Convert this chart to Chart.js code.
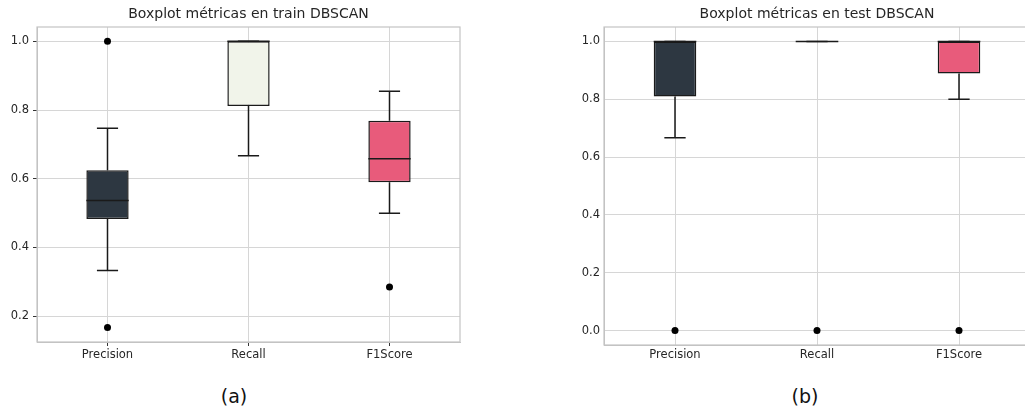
<!DOCTYPE html>
<html lang="es">
<head>
  <meta charset="UTF-8">
  <title>Boxplot métricas DBSCAN</title>
  <script src="https://cdn.jsdelivr.net/npm/chart.js"></script>
  <style>
    body {
      margin: 0;
      width: 1025px;
      height: 412px;
      overflow: hidden;
      background: #ffffff;
      position: relative;
      font-family: "DejaVu Sans", sans-serif;
    }
    .chart-box {
      position: absolute;
      top: 0;
      height: 370px;
    }
    .title {
      position: absolute;
      top: 5px;
      font-size: 14px;
      color: #262626;
      white-space: nowrap;
      transform: translateX(-50%);
    }
    .caption {
      position: absolute;
      top: 385px;
      font-size: 19px;
      color: #111;
      transform: translateX(-50%);
    }
  </style>
</head>
<body>

<div class="chart-box" style="left:0; width:470px;"><canvas id="trainChart"></canvas></div>
<div class="chart-box" style="left:560px; width:480px;"><canvas id="testChart"></canvas></div>

<div class="title" style="left:248.5px;">Boxplot métricas en train DBSCAN</div>
<div class="title" style="left:817px;">Boxplot métricas en test DBSCAN</div>

<div class="caption" style="left:234px;">(a)</div>
<div class="caption" style="left:805px;">(b)</div>

<script>
  // Datos
  const categories = ['Precision', 'Recall', 'F1Score'];
  const boxColors = ['#2d3741', '#f1f4ea', '#e85b7b'];

  // train
  const trainQ1 = [0.483, 0.812, 0.590];
  const trainMedian = [0.537, 1.0, 0.658];
  const trainQ3 = [0.625, 1.0, 0.769];
  const trainWhiskerLow = [0.333, 0.667, 0.500];
  const trainWhiskerHigh = [0.747, 1.0, 0.855];
  const trainOutliers = [[0.167, 1.0], [], [0.285]];
  const trainTicks = [0.2, 0.4, 0.6, 0.8, 1.0];

  // test
  const testQ1 = [0.810, 1.0, 0.889];
  const testMedian = [1.0, 1.0, 1.0];
  const testQ3 = [1.0, 1.0, 1.0];
  const testWhiskerLow = [0.667, 1.0, 0.800];
  const testWhiskerHigh = [1.0, 1.0, 1.0];
  const testOutliers = [[0.0], [0.0], [0.0]];
  const testTicks = [0.0, 0.2, 0.4, 0.6, 0.8, 1.0];

  const tickFont = { family: 'DejaVu Sans', size: 11.5 };

  // bigotes, topes y mediana dibujados con las escalas del gráfico
  const boxplotPlugin = {
    id: 'boxplotExtras',
    afterDatasetsDraw(chart, args, opts) {
      const ctx = chart.ctx;
      const y = chart.scales.y;
      const bars = chart.getDatasetMeta(0).data;
      ctx.save();
      ctx.lineWidth = 1.5;
      ctx.strokeStyle = '#1a1a1a';
      bars.forEach((bar, i) => {
        const x = bar.x;
        const half = bar.width / 2;
        const capHalf = half / 2;
        const yQ1 = y.getPixelForValue(opts.q1[i]);
        const yQ3 = y.getPixelForValue(opts.q3[i]);
        const yLow = y.getPixelForValue(opts.low[i]);
        const yHigh = y.getPixelForValue(opts.high[i]);
        const yMed = y.getPixelForValue(opts.median[i]);
        ctx.beginPath();
        // bigote inferior
        ctx.moveTo(x, yQ1); ctx.lineTo(x, yLow);
        ctx.moveTo(x - capHalf, yLow); ctx.lineTo(x + capHalf, yLow);
        // bigote superior
        ctx.moveTo(x, yQ3); ctx.lineTo(x, yHigh);
        ctx.moveTo(x - capHalf, yHigh); ctx.lineTo(x + capHalf, yHigh);
        ctx.stroke();
        // mediana
        ctx.beginPath();
        ctx.moveTo(x - half, yMed); ctx.lineTo(x + half, yMed);
        ctx.stroke();
      });
      ctx.restore();
    }
  };

  // marco completo del área de trazado
  const framePlugin = {
    id: 'frame',
    beforeDatasetsDraw(chart) {
      const a = chart.chartArea;
      const ctx = chart.ctx;
      ctx.save();
      ctx.strokeStyle = '#c4c4c4';
      ctx.lineWidth = 1.2;
      ctx.strokeRect(a.left, a.top, a.right - a.left, a.bottom - a.top);
      ctx.restore();
    }
  };

  function outlierData(outliers) {
    const pts = [];
    outliers.forEach((vals, i) => vals.forEach(v => pts.push({ x: categories[i], y: v })));
    return pts;
  }

  function makeBoxplot(id, d) {
    const ctx = document.getElementById(id).getContext('2d');
    return new Chart(ctx, {
      type: 'bar',
      data: {
        labels: categories,
        datasets: [{
          data: d.q1.map((v, i) => [v, d.q3[i]]),
          backgroundColor: boxColors,
          borderColor: '#1a1a1a',
          borderWidth: 1.5,
          borderSkipped: false,
          categoryPercentage: 1.0,
          barPercentage: 0.3
        }, {
          type: 'line',
          data: outlierData(d.outliers),
          showLine: false,
          pointRadius: 3.5,
          pointBackgroundColor: '#000000',
          pointBorderWidth: 0
        }]
      },
      options: {
        responsive: true,
        maintainAspectRatio: false,
        animation: false,
        layout: { padding: { top: 27, right: 10, left: 0, bottom: 0 } },
        plugins: {
          legend: { display: false },
          tooltip: { enabled: false },
          boxplotExtras: { q1: d.q1, q3: d.q3, low: d.low, high: d.high, median: d.median }
        },
        scales: {
          x: {
            offset: true,
            grid: {
              offset: false,
              color: '#d6d6d6',
              drawTicks: d.ticks,
              tickLength: 4,
              tickColor: '#333333'
            },
            border: { color: '#c4c4c4' },
            ticks: { color: '#262626', font: tickFont, padding: d.ticks ? 2 : 3 },
            afterFit: s => { s.height = d.xHeight; }
          },
          y: {
            min: d.min,
            max: d.max,
            grid: {
              color: '#d6d6d6',
              drawTicks: d.ticks,
              tickLength: 4,
              tickColor: '#333333'
            },
            border: { color: '#c4c4c4' },
            ticks: {
              color: '#262626',
              font: tickFont,
              padding: 4,
              callback: v => v.toFixed(1)
            },
            afterBuildTicks: s => { s.ticks = d.yTicks.map(v => ({ value: v })); },
            afterFit: s => { s.width = d.yWidth; }
          }
        }
      },
      plugins: [framePlugin, boxplotPlugin]
    });
  }

  makeBoxplot('trainChart', {
    q1: trainQ1, q3: trainQ3, median: trainMedian,
    low: trainWhiskerLow, high: trainWhiskerHigh, outliers: trainOutliers,
    yTicks: trainTicks, min: 0.125, max: 1.0417,
    ticks: true, yWidth: 37, xHeight: 28
  });

  makeBoxplot('testChart', {
    q1: testQ1, q3: testQ3, median: testMedian,
    low: testWhiskerLow, high: testWhiskerHigh, outliers: testOutliers,
    yTicks: testTicks, min: -0.05, max: 1.05,
    ticks: false, yWidth: 44, xHeight: 25
  });
</script>

</body>
</html>
